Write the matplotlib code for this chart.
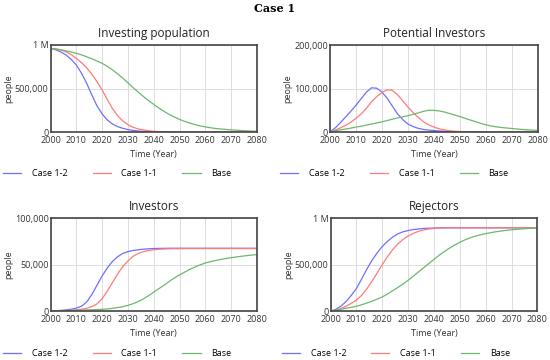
import numpy as np
import matplotlib
matplotlib.use("Agg")
import matplotlib.pyplot as plt
from matplotlib.ticker import FuncFormatter

plt.rcParams['font.family'] = ['Open Sans', 'DejaVu Sans']

years = np.arange(2000, 2081, 2)

# Investing population
inv_pop_c12 = [960e3, 945e3, 920e3, 885e3, 835e3, 770e3, 676e3, 561e3, 427e3, 302e3, 210e3,
               141e3, 95e3, 65e3, 46e3, 31e3, 22e3, 15e3, 10e3, 6.5e3, 4e3,
               2.5e3, 1.5e3, 1e3, 800, 600, 500, 400, 300, 300, 200,
               200, 200, 200, 200, 200, 200, 200, 200, 200, 200]
inv_pop_c11 = [960e3, 955e3, 943e3, 922e3, 890e3, 847e3, 798e3, 738e3, 665e3, 580e3, 485e3,
               375e3, 272e3, 190e3, 130e3, 86e3, 57e3, 38e3, 27e3, 18e3, 12e3,
               8.5e3, 6e3, 4e3, 2.5e3, 1.5e3, 1e3, 800, 600, 500, 400,
               300, 300, 200, 200, 200, 200, 200, 200, 200, 200]
inv_pop_base = [960e3, 955e3, 945e3, 933e3, 920e3, 905e3, 887e3, 865e3, 842e3, 817e3, 790e3,
                755e3, 715e3, 670e3, 620e3, 566e3, 512e3, 460e3, 410e3, 362e3, 320e3,
                278e3, 240e3, 205e3, 175e3, 148e3, 125e3, 105e3, 88e3, 74e3, 62e3,
                52e3, 44e3, 38e3, 33e3, 28e3, 24e3, 20e3, 17e3, 14e3, 12e3]

# Potential investors
pot_c12 = [1e3, 10e3, 22e3, 35e3, 48e3, 62e3, 77e3, 92e3, 102e3, 101e3, 92e3,
           78e3, 60e3, 42e3, 29e3, 19e3, 13e3, 9e3, 6.5e3, 5e3, 4e3,
           3e3, 2.2e3, 1.6e3, 1.2e3, 1e3, 800, 600, 500, 400, 350,
           300, 300, 250, 250, 200, 200, 200, 200, 200, 200]
pot_c11 = [500, 5e3, 10e3, 16e3, 23e3, 32e3, 42e3, 55e3, 70e3, 82e3, 91e3,
           97.5e3, 96e3, 86e3, 72e3, 58e3, 45e3, 34e3, 24e3, 17e3, 12e3,
           8e3, 5.5e3, 3.5e3, 2.5e3, 1.7e3, 1.2e3, 900, 700, 500, 400,
           350, 300, 300, 250, 250, 200, 200, 200, 200, 200]
pot_base = [1e3, 3.5e3, 5.5e3, 7.5e3, 9.5e3, 12e3, 14e3, 16.5e3, 19e3, 21.5e3, 24e3,
            27e3, 30e3, 33e3, 35.5e3, 38e3, 41e3, 44.5e3, 48e3, 50.5e3, 50.5e3,
            49e3, 46.5e3, 43e3, 39.5e3, 36e3, 32e3, 28e3, 24.5e3, 20.5e3, 17e3,
            14.5e3, 12.5e3, 11e3, 9.8e3, 8.8e3, 7.5e3, 6.5e3, 5.5e3, 5e3, 4.5e3]

# Investors
investors_c12 = [300, 600, 1e3, 1.6e3, 2.3e3, 3.4e3, 5.5e3, 10e3, 18e3, 28e3, 38e3,
                 46.5e3, 53.5e3, 58.5e3, 62e3, 64e3, 65.2e3, 66e3, 66.6e3, 67e3, 67.3e3,
                 67.5e3, 67.5e3, 67.6e3, 67.6e3, 67.6e3, 67.6e3, 67.6e3, 67.6e3, 67.6e3, 67.6e3,
                 67.6e3, 67.6e3, 67.6e3, 67.6e3, 67.6e3, 67.6e3, 67.6e3, 67.6e3, 67.6e3, 67.6e3]
investors_c11 = [200, 400, 600, 900, 1.2e3, 1.6e3, 2.3e3, 3.3e3, 5e3, 8e3, 13.5e3,
                 21.7e3, 31e3, 40e3, 48e3, 54e3, 59e3, 62e3, 64e3, 65.2e3, 66e3,
                 66.5e3, 66.8e3, 67e3, 67.1e3, 67.1e3, 67.2e3, 67.2e3, 67.2e3, 67.2e3, 67.2e3,
                 67.2e3, 67.2e3, 67.2e3, 67.2e3, 67.2e3, 67.2e3, 67.2e3, 67.2e3, 67.2e3, 67.2e3]
investors_base = [100, 300, 500, 700, 900, 1.1e3, 1.3e3, 1.5e3, 1.7e3, 1.9e3, 2.2e3,
                  2.6e3, 3.2e3, 4e3, 5e3, 6.4e3, 8.2e3, 10.5e3, 13.3e3, 16.8e3, 20.6e3,
                  24.3e3, 28e3, 32e3, 35.8e3, 39e3, 42e3, 45e3, 47.5e3, 49.8e3, 51.8e3,
                  53.2e3, 54.5e3, 55.6e3, 56.6e3, 57.5e3, 58.3e3, 59e3, 59.7e3, 60.3e3, 60.8e3]

# Rejectors
rej_c12 = [2e3, 20e3, 55e3, 105e3, 170e3, 245e3, 345e3, 450e3, 545e3, 625e3, 695e3,
           750e3, 795e3, 830e3, 852e3, 866e3, 876e3, 883e3, 888e3, 891e3, 893e3,
           894e3, 895e3, 895e3, 895e3, 895e3, 895e3, 895e3, 895e3, 895e3, 895e3,
           895e3, 895e3, 895e3, 895e3, 895e3, 895e3, 895e3, 895e3, 895e3, 895e3]
rej_c11 = [1e3, 10e3, 30e3, 55e3, 85e3, 120e3, 170e3, 240e3, 320e3, 410e3, 500e3,
           585e3, 660e3, 720e3, 770e3, 807e3, 835e3, 857e3, 872e3, 882e3, 888e3,
           892e3, 894e3, 895e3, 895e3, 895e3, 895e3, 895e3, 895e3, 895e3, 895e3,
           895e3, 895e3, 895e3, 895e3, 895e3, 895e3, 895e3, 895e3, 895e3, 895e3]
rej_base = [2e3, 12e3, 22e3, 33e3, 43e3, 54e3, 70e3, 88e3, 108e3, 130e3, 154e3,
            185e3, 220e3, 255e3, 292e3, 332e3, 377e3, 422e3, 467e3, 512e3, 557e3,
            600e3, 640e3, 677e3, 710e3, 740e3, 766e3, 788e3, 806e3, 820e3, 832e3,
            843e3, 853e3, 861e3, 868e3, 874e3, 879e3, 883e3, 887e3, 890e3, 892e3]

labels = ['Case 1-2', 'Case 1-1', 'Base']
colors = ['#6f6fff', '#ff7a7a', '#6cb86c']

panels = [
    ("Investing population", [inv_pop_c12, inv_pop_c11, inv_pop_base], 1e6,
     [0, 5e5, 1e6], [0.092, 0.6325, 0.375, 0.2425], 0.213, 0.519),
    ("Potential Investors", [pot_c12, pot_c11, pot_base], 2e5,
     [0, 1e5, 2e5], [0.6, 0.6325, 0.378, 0.2425], 0.717, 0.519),
    ("Investors", [investors_c12, investors_c11, investors_base], 1e5,
     [0, 5e4, 1e5], [0.092, 0.1352, 0.375, 0.2592], 0.213, 0.017),
    ("Rejectors", [rej_c12, rej_c11, rej_base], 1e6,
     [0, 5e5, 1e6], [0.601, 0.1352, 0.376, 0.2592], 0.72, 0.017),
]


def fmt(v, pos):
    if v >= 1e6:
        return "1 M"
    return f"{int(v):,}"


fig = plt.figure(figsize=(5.5, 3.6), dpi=100)
fig.text(0.5, 0.975, "Case 1", ha='center', va='center', fontsize=8,
         fontweight='bold', family='DejaVu Serif')

for title, series, ymax, yticks, rect, lx, ly in panels:
    ax = fig.add_axes(rect)
    for s, c, lab in zip(series, colors, labels):
        ax.plot(years, s, color=c, lw=0.9, label=lab)
    ax.set_xlim(2000, 2080)
    ax.set_ylim(0, ymax)
    ax.set_xticks(np.arange(2000, 2081, 10))
    ax.set_yticks(yticks)
    ax.yaxis.set_major_formatter(FuncFormatter(fmt))
    ax.grid(True, color='#dddddd', lw=0.7)
    ax.tick_params(length=0, labelsize=6.5, pad=1.5, colors='#333333')
    ax.tick_params(axis='x', pad=3)
    for sp in ax.spines.values():
        sp.set_color('#444444')
        sp.set_linewidth(1.2)
    ax.set_title(title, fontsize=8.5, pad=6, color='#222222')
    ax.set_xlabel("Time (Year)", fontsize=6.5, labelpad=3.5, color='#333333')
    ax.set_ylabel("people", fontsize=6.5, labelpad=1, color='#333333')
    fig.legend(*ax.get_legend_handles_labels(), loc='center', bbox_to_anchor=(lx, ly),
               ncol=3, frameon=False, fontsize=6.5, handlelength=2.0,
               handletextpad=1.2, columnspacing=2.8)

plt.savefig("out.png", dpi=100)
